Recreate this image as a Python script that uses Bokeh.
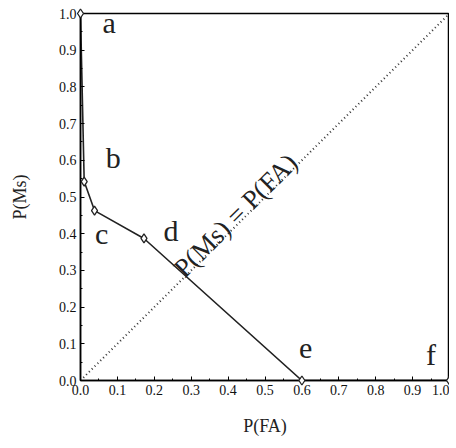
from bokeh.plotting import figure
from bokeh.models import Range1d, FixedTicker, Label, PrintfTickFormatter
from bokeh.embed import file_html
from bokeh.resources import INLINE

# ROC-like curve points
pfa = [0.0, 0.01, 0.038, 0.172, 0.6, 1.0]
pms = [1.0, 0.542, 0.463, 0.387, 0.0, 0.0]
point_names = ["a", "b", "c", "d", "e", "f"]
name_x = [0.078, 0.089, 0.057, 0.245, 0.61, 0.95]
name_y = [0.975, 0.607, 0.40, 0.41, 0.087, 0.07]
diag = [0.0, 1.0]
ticks = [0.0, 0.1, 0.2, 0.3, 0.4, 0.5, 0.6, 0.7, 0.8, 0.9, 1.0]

SERIF = "Liberation Serif"

p = figure(frame_width=369, frame_height=367, output_backend="svg", toolbar_location=None,
           x_range=Range1d(0, 1), y_range=Range1d(0, 1),
           min_border_left=80, min_border_right=0, min_border_top=13, min_border_bottom=56)
p.grid.visible = False
p.outline_line_color = "black"
p.outline_line_width = 1.5
p.background_fill_color = "white"
p.border_fill_color = "white"

axes = [p.xaxis[0], p.yaxis[0]]
for ax in axes:
    ax.ticker = FixedTicker(ticks=ticks, minor_ticks=[i * 0.05 for i in range(21)])
    ax.formatter = PrintfTickFormatter(format="%.1f")
    ax.major_tick_in = 4
    ax.major_tick_out = 0
    ax.minor_tick_in = 2
    ax.minor_tick_out = 0
    ax.axis_line_width = 1.5
    ax.major_label_text_font = SERIF
    ax.major_label_text_font_style = "normal"
    ax.major_label_text_font_size = "14px"
    ax.major_label_text_color = "#111111"
    ax.axis_label_text_font = SERIF
    ax.axis_label_text_font_style = "normal"
    ax.axis_label_text_font_size = "18px"
    ax.axis_label_text_color = "#222222"
    ax.major_label_standoff = 4

p.xaxis[0].axis_label = "P(FA)"
p.yaxis[0].axis_label = "P(Ms)"
p.xaxis[0].axis_label_standoff = 18
p.yaxis[0].axis_label_standoff = 26
p.yaxis[0].major_label_orientation = "horizontal"

p.line(diag, diag, line_color="#333333", line_width=2, line_dash="1 3")
p.line(pfa, pms, line_color="#222222", line_width=1.6)
p.scatter(pfa, pms, marker="diamond", size=9, fill_color="white",
          line_color="#222222", line_width=1.3, level="overlay")

for n, x, y in zip(point_names, name_x, name_y):
    p.add_layout(Label(x=x, y=y, text=n, text_font=SERIF, text_font_size="30px",
                       text_color="#222222", text_align="center", text_baseline="middle"))

p.add_layout(Label(x=0.42, y=0.45, text="P(Ms) = P(FA)", angle=45, angle_units="deg",
                   text_font=SERIF, text_font_size="27px", text_color="#222222",
                   text_align="center", text_baseline="middle"))

open("out.html", "w").write(file_html(p, INLINE))
